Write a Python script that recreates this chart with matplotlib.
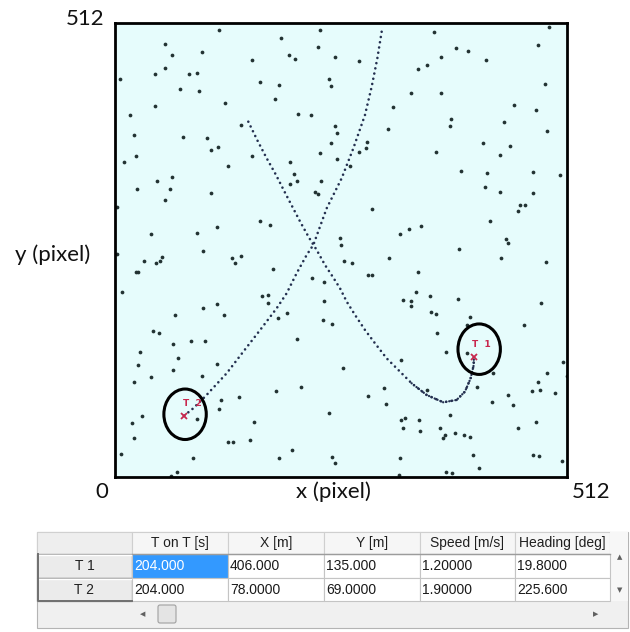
import matplotlib
matplotlib.use("Agg")
import matplotlib.pyplot as plt
from matplotlib.patches import Ellipse, Rectangle, FancyBboxPatch

# ---------------------------------------------------------------- data
# clutter detections (pixel coordinates of the 512 x 512 frame)
clutter_x = [
    117.4, 231.8, 187.6, 56.3, 64.6, 98.2, 197.0, 203.8, 229.5, 248.4, 154.8, 5.7,
    44.6, 56.6, 83.1, 92.1, 72.9, 95.1, 163.8, 185.0, 180.8, 242.3, 244.2, 124.6,
    44.6, 16.6, 206.9, 221.2, 142.3, 21.5, 77.0, 103.4, 248.4, 251.4, 244.6, 108.4,
    116.7, 23.4, 10.2, 154.8, 127.6, 232.1, 250.6, 198.2, 202.0, 206.1, 197.8, 233.3,
    47.6, 64.2, 61.9, 24.6, 108.0, 56.6, 226.1, 229.5, 2.3, 163.5, 174.8, 115.1,
    40.8, 92.1, 254.4,
    360.5, 490.7, 479.0, 385.4, 399.0, 368.4, 419.7, 275.9, 352.5, 343.1, 486.5, 334.8,
    368.4, 314.0, 451.0, 476.3, 379.7, 379.0, 309.1, 439.7, 488.8, 285.0, 284.2, 275.5,
    265.7, 363.5, 415.9, 447.3, 435.2, 391.4, 420.8, 472.5, 503.9, 418.6, 435.2, 473.3,
    458.6, 463.5, 456.3, 290.6, 423.9, 346.1, 332.1, 322.0, 442.7, 445.0, 389.5, 255.5,
    98.9, 32.9, 46.1, 50.6, 52.5, 23.1, 26.1, 131.8, 135.5, 142.3, 178.9, 7.6,
    166.5, 172.9, 173.3, 194.0, 183.8, 98.9, 114.8, 122.7, 67.2, 42.7, 49.1, 65.7,
    86.1, 101.6, 206.1, 27.6, 71.4, 115.1, 25.3, 65.0, 97.8, 40.8, 21.5, 182.0,
    210.3, 140.4, 119.3, 117.8, 30.6, 18.5, 157.0, 242.0, 21.5, 128.0, 133.3, 152.1,
    199.7, 6.8, 87.6, 185.7, 245.3, 248.4, 69.5, 63.1, 258.2, 222.3, 235.5, 245.3,
    236.7, 236.3, 92.9, 2.3,
    309.5, 437.1, 488.0, 259.3, 267.6, 285.7, 291.0, 342.3, 340.4, 326.1, 334.8, 335.2,
    356.3, 387.6, 482.4, 357.8, 363.5, 401.6, 397.8, 462.4, 364.6, 374.4, 397.8, 323.1,
    506.5, 489.1, 427.3, 479.0, 471.4, 481.2, 498.2, 409.9, 303.8, 352.5, 285.7, 306.9,
    426.9, 444.2, 449.9, 379.0, 323.1, 328.0, 344.2, 326.1, 345.4, 367.2, 373.3, 370.6,
    384.6, 394.8, 401.6, 456.3, 476.3, 472.5, 479.3, 506.1, 405.4, 322.3, 411.8, 374.4,
    381.6, 321.6, 511.0,
]
clutter_y = [
    504.8, 504.8, 495.4, 488.7, 476.2, 479.3, 476.6, 471.7, 485.6, 474.4, 470.6, 448.8,
    454.4, 461.2, 454.4, 456.3, 438.2, 435.2, 445.4, 442.4, 426.2, 449.5, 441.2, 422.0,
    418.3, 408.1, 410.0, 408.1, 397.2, 385.9, 383.6, 382.9, 396.1, 387.8, 376.9, 369.0,
    372.7, 361.8, 355.0, 361.8, 350.9, 365.9, 358.8, 355.8, 341.5, 334.0, 330.6, 333.6,
    333.6, 338.5, 324.5, 324.9, 320.4, 312.5, 321.9, 319.3, 305.0, 289.2, 283.9, 282.4,
    274.1, 274.9, 269.2,
    501.8, 507.5, 487.5, 484.5, 480.7, 474.4, 471.0, 469.8, 465.3, 460.4, 443.1, 433.3,
    433.3, 417.1, 419.4, 414.1, 403.9, 396.1, 393.1, 400.2, 390.0, 377.6, 371.6, 367.1,
    351.3, 367.1, 376.9, 373.1, 363.0, 345.2, 342.6, 343.7, 340.7, 326.8, 321.9, 320.8,
    306.9, 306.9, 300.5, 302.3, 289.2, 283.1, 280.1, 274.1, 268.4, 263.9, 257.2, 262.0,
    254.9, 244.0, 241.0, 243.6, 248.5, 230.8, 230.8, 246.6, 241.0, 249.7, 234.6, 208.3,
    204.5, 205.6, 196.6, 184.5, 179.3, 190.6, 195.5, 182.3, 182.3, 164.6, 162.3, 150.3,
    152.9, 152.9, 155.2, 140.9, 134.1, 126.9, 126.2, 120.9, 113.8, 112.6, 106.6, 96.8,
    101.7, 90.4, 86.7, 76.1, 68.2, 60.3, 62.2, 71.6, 43.4, 39.3, 39.3, 41.5,
    30.2, 26.1, 20.8, 20.8, 22.7, 15.2, 5.7, 1.2, 123.2, 224.8, 177.4, 172.9,
    198.5, 220.3, 65.2, 252.0,
    247.0, 247.0, 242.9, 244.0, 241.0, 227.8, 227.8, 231.6, 208.6, 199.6, 198.5, 192.4,
    204.5, 200.7, 196.6, 186.4, 183.4, 180.4, 171.4, 171.4, 162.7, 141.3, 139.4, 131.8,
    130.0, 116.8, 116.8, 106.6, 97.2, 98.0, 94.6, 101.7, 99.8, 98.0, 91.2, 81.8,
    84.8, 92.0, 81.0, 69.7, 64.1, 66.0, 63.7, 54.7, 51.7, 55.4, 47.2, 43.4,
    49.8, 47.2, 44.5, 55.4, 61.5, 24.6, 23.4, 17.8, 24.6, 20.8, 9.5, 5.0,
    3.9, 2.0, 114.2,
]

# track histories
track1_x = [150.6, 160.8, 171.4, 182.0, 191.0, 200.8, 210.3, 219.3, 228.0, 237.4, 246.1,
            254.4, 262.0, 271.4, 282.7, 294.0, 307.2, 320.4, 335.5, 352.5, 371.4, 386.5,
            395.9, 402.3, 405.8, 406.0]
track1_y = [400.9, 379.9, 359.6, 340.7, 323.0, 304.2, 286.1, 270.0, 256.0, 239.1, 225.9,
            212.8, 197.7, 182.7, 165.7, 150.7, 133.7, 120.6, 105.5, 92.3, 84.0, 86.7,
            96.1, 111.1, 126.0, 135.0]
track2_x = [78.0, 88.0, 101.6, 126.1, 145.0, 164.0, 182.7, 194.0, 205.3, 216.7, 224.2,
            239.3, 256.3, 269.5, 282.7, 290.3, 296.7, 301.6]
track2_y = [69.0, 77.0, 90.4, 116.8, 141.3, 165.7, 190.2, 207.1, 229.7, 250.4, 261.7,
            303.0, 337.0, 370.8, 408.5, 440.5, 472.5, 502.6]

# target table
target_names = ["T 1", "T 2"]
table_columns = ["T on T [s]", "X [m]", "Y [m]", "Speed [m/s]", "Heading [deg]"]
time_on_target = ["204.000", "204.000"]
target_x = [406.0, 78.0]
target_y = [135.0, 69.0]
target_x_text = ["406.000", "78.0000"]
target_y_text = ["135.000", "69.0000"]
target_speed = ["1.20000", "1.90000"]
target_heading = ["19.8000", "225.600"]

# ---------------------------------------------------------------- figure
W, H = 630, 632
fig = plt.figure(figsize=(W / 100, H / 100), dpi=100)
fig.patch.set_facecolor("white")


def fx(px):
    return px / W


def fy(py):
    return 1 - py / H


L, R, T, B = 115.3, 567.5, 23.3, 476.7
ax = fig.add_axes([fx(L), fy(B), (R - L) / W, (B - T) / H])
ax.set_facecolor("#e6fcfc")
ax.set_xlim(0, 512)
ax.set_ylim(0, 512)
ax.set_xticks([])
ax.set_yticks([])
for sp in ax.spines.values():
    sp.set_linewidth(2.0)
    sp.set_color("black")

ax.plot(clutter_x, clutter_y, "o", ms=2.7, mew=0, color="#223232", zorder=2)

dot_style = dict(color="#243050", lw=1.9, linestyle=(0, (0.01, 2.0)),
                 dash_capstyle="round", zorder=3)
ax.plot(track1_x, track1_y, **dot_style)
ax.plot(track2_x, track2_y, **dot_style)
# the slow turn near the end of track 1 is sampled more densely
dense = dict(dot_style, lw=1.7, linestyle=(0, (0.01, 1.3)))
ax.plot(track1_x[18:], track1_y[18:], **dense)

# ring around each confirmed target
ring_offsets = [(6.0, 9.0), (1.0, 1.5)]
for (tx, ty), (dx, dy) in zip(zip(target_x, target_y), ring_offsets):
    ax.add_patch(Ellipse((tx + dx, ty + dy), 48, 57, fill=False, lw=2.2,
                         ec="black", zorder=4))

red = "#c8284e"
ax.plot(target_x, target_y, "x", color=red, ms=4.5, mew=1.3, zorder=5)
for name, tx, ty in zip(target_names, target_x, target_y):
    ax.text(tx + 9, ty + 14, name.replace(" ", "  "), color=red, fontsize=6.5,
            fontweight="bold", ha="center", va="center", zorder=5)

lab = dict(fontsize=16, family="Lato", color="#111111", ha="center", va="center")
fig.text(fx(85), fy(19), "512", **lab)
fig.text(fx(102), fy(492), "0", **lab)
fig.text(fx(591), fy(492), "512", **lab)
fig.text(fx(333), fy(492), "x (pixel)", **lab)
fig.text(fx(53), fy(255), "y (pixel)", **lab)

# ---------------------------------------------------------------- table
tax = fig.add_axes([0, 0, 1, 1], zorder=-1)
tax.set_xlim(0, W)
tax.set_ylim(H, 0)
tax.axis("off")

col_edges = [37, 132, 228, 324, 420, 515, 610, 628]
row_edges = [532, 554, 578, 601, 628]


def box(x0, y0, x1, y1, fc, ec="none", lw=0.8, z=1):
    tax.add_patch(Rectangle((x0, y0), x1 - x0, y1 - y0, fc=fc, ec=ec, lw=lw, zorder=z))


box(37, 532, 628, 628, "#f0f0f0", "#b4b4b4", 0.8, 0)
# header row
box(37, 532, 132, 554, "#eeeeee", "#d0d0d0")
for c in range(1, 6):
    box(col_edges[c], 532, col_edges[c + 1], 554, "#f6f6f6", "#cfcfcf")
tax.plot([132, 610], [554, 554], color="#9c9c9c", lw=1.0, zorder=3)
# scroll column
box(610, 532, 628, 601, "#f7f7f7", "none")
# body
cell_rows = [
    [time_on_target[i], target_x_text[i], target_y_text[i], target_speed[i], target_heading[i]]
    for i in range(len(target_names))
]
for r, (name, cells) in enumerate(zip(target_names, cell_rows)):
    y0, y1 = row_edges[r + 1], row_edges[r + 2]
    box(37, y0, 132, y1, "#ebebeb", "#a8a8a8", 1.0, 2)
    tax.plot([38, 131], [y0 + 1, y0 + 1], color="white", lw=1.0, zorder=3)
    tax.text(84.5, (y0 + y1) / 2 + 0.5, name, fontsize=10, family="Liberation Sans",
             ha="center", va="center", color="#202020", zorder=4)
    for c, val in enumerate(cells):
        x0, x1 = col_edges[c + 1], col_edges[c + 2]
        selected = (r == 0 and c == 0)
        box(x0, y0, x1, y1, "#3399ff" if selected else "white", "#c4c4c4", 0.8, 2)
        tax.text(x0 + 2, (y0 + y1) / 2 + 0.5, val, fontsize=10, family="Liberation Sans",
                 ha="left", va="center", color="white" if selected else "#1a1a1a", zorder=4)
for c, name in enumerate(table_columns):
    x0, x1 = col_edges[c + 1], col_edges[c + 2]
    tax.text((x0 + x1) / 2, 543.5, name, fontsize=10, family="Liberation Sans",
             ha="center", va="center", color="#202020", zorder=4)
# heavy frame of the row-header column
tax.plot([37.5, 37.5, 132], [554, 601, 601], color="#707070", lw=1.4, zorder=5)

# scroll bars
arrow = dict(fontsize=5, family="DejaVu Sans", color="#606060", ha="center", va="center", zorder=4)
tax.text(620, 557, "\u25b2", **arrow)
tax.text(620, 590, "\u25bc", **arrow)
tax.text(143, 614, "\u25c0", **arrow)
tax.text(596, 614, "\u25b6", **arrow)
tax.add_patch(FancyBboxPatch((158, 605), 18, 18, boxstyle="round,pad=0,rounding_size=2",
                             fc="#e4e4e4", ec="#a0a0a0", lw=0.8, zorder=4))

fig.savefig("out.png", dpi=100, facecolor="white")
